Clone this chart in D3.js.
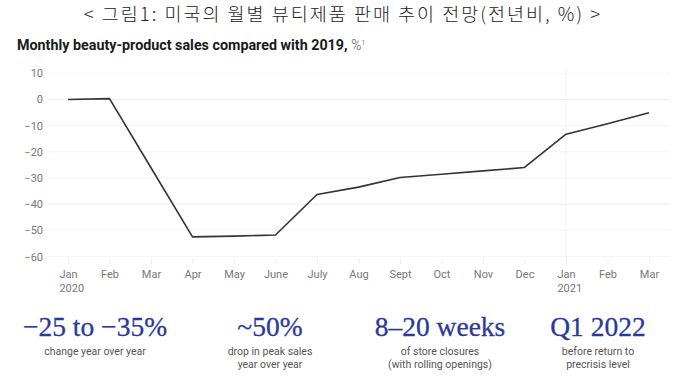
<!DOCTYPE html>
<html><head><meta charset="utf-8">
<script src="https://cdn.jsdelivr.net/npm/d3@7/dist/d3.min.js"></script>
<style>body{margin:0;background:#fff}svg{display:block}</style>
</head><body><svg id="c" width="680" height="379"></svg>
<script>
const months = ["Jan","Feb","Mar","Apr","May","June","July","Aug","Sept","Oct","Nov","Dec","Jan","Feb","Mar"];
const years = {0:"2020",12:"2021"};
const values = [0, 0.3, -26.1, -52.5, -52.2, -51.8, -36.3, -33.5, -29.8, -28.6, -27.3, -26.0, -13.3, -9.3, -5.1];
const yTicks = [10,0,-10,-20,-30,-40,-50,-60];
const statBig = ["\u221225 to \u221235%","~50%","8\u201320 weeks","Q1 2022"];
const statSub = [["change year over year"],["drop in peak sales","year over year"],["of store closures","(with rolling openings)"],["before return to","precrisis level"]];
const statX = [95,270,440,598];

const svg = d3.select("#c");
svg.append("text").attr("x",343).attr("y",21).attr("text-anchor","middle")
  .attr("font-family","'Noto Sans CJK KR'").attr("font-size",18.5).attr("font-weight",300).attr("letter-spacing",2).attr("fill","#222")
  .text("< 그림1: 미국의 월별 뷰티제품 판매 추이 전망(전년비, %) >");
const t = svg.append("text").attr("x",17).attr("y",50).attr("font-family","Roboto, 'Liberation Sans', sans-serif").attr("font-size",14.3);
t.append("tspan").attr("font-weight","bold").attr("fill","#1a1a1a").text("Monthly beauty-product sales compared with 2019, ");
t.append("tspan").attr("fill","#888").text("%");
t.append("tspan").attr("fill","#888").attr("font-size",7).attr("dy",-5).text("1");

const x = d3.scalePoint().domain(d3.range(months.length)).range([68,649]);
const y = d3.scaleLinear().domain([-60,10]).range([256.5,73.25]);

// grid
svg.append("g").selectAll("line").data(yTicks).join("line")
  .attr("x1",48).attr("x2",670).attr("y1",d=>y(d)).attr("y2",d=>y(d))
  .attr("stroke",d=>(d===0||d===-40)?"#ececec":"#f5f5f5").attr("stroke-width",1);
svg.append("line").attr("x1",x(12)).attr("x2",x(12)).attr("y1",68).attr("y2",262).attr("stroke","#f3f3f3");

const ya = d3.axisLeft(y).tickValues(yTicks).tickSize(0).tickPadding(0).tickFormat(d=>d<0?"\u2212"+Math.abs(d):d);
const gy = svg.append("g").attr("transform","translate(43,0)").call(ya);
gy.select(".domain").remove();
gy.selectAll("text").attr("font-family","Roboto, 'Liberation Sans', sans-serif").attr("font-size",11).attr("fill","#777");

const xa = d3.axisBottom(x).tickSize(6).tickPadding(6).tickFormat(i=>months[i]);
const gx = svg.append("g").attr("transform","translate(0,258)").call(xa);
gx.select(".domain").remove();
gx.selectAll(".tick line").attr("stroke","#eee");
gx.selectAll("text").attr("font-family","Roboto, 'Liberation Sans', sans-serif").attr("font-size",11).attr("fill","#777");
gx.selectAll(".tick").filter(i=>years[i]).each(function(i){
  const g = d3.select(this);
  const bb = g.select("text").node().getBBox();
  g.append("text").attr("x",bb.x).attr("y",26).attr("dy","0.71em")
    .attr("text-anchor","start").attr("font-family","Roboto, 'Liberation Sans', sans-serif").attr("font-size",11).attr("fill","#777")
    .text(years[i]);
});

const pts = values.map((v,i)=>[i,v]);
svg.append("path").datum(pts).attr("fill","none").attr("stroke","#333").attr("stroke-width",1.6)
  .attr("stroke-linejoin","round")
  .attr("d",d3.line().x(d=>x(d[0])).y(d=>y(d[1])));

const sg = svg.append("g").selectAll("g").data(statBig).join("g").attr("transform",(d,i)=>`translate(${statX[i]},0)`);
sg.append("text").attr("y",336).attr("text-anchor","middle").attr("font-family","'Liberation Serif', serif")
  .attr("font-size",27.5).attr("fill","#2b3a9a").attr("stroke","#2b3a9a").attr("stroke-width",0.3).text(d=>d);
sg.each(function(d,i){
  d3.select(this).selectAll("text.s").data(statSub[i]).join("text").attr("class","s")
    .attr("y",(s,j)=>355+j*13).attr("text-anchor","middle").attr("font-family","Roboto, 'Liberation Sans', sans-serif")
    .attr("font-size",10.5).attr("fill","#555").text(s=>s);
});
</script></body></html>
